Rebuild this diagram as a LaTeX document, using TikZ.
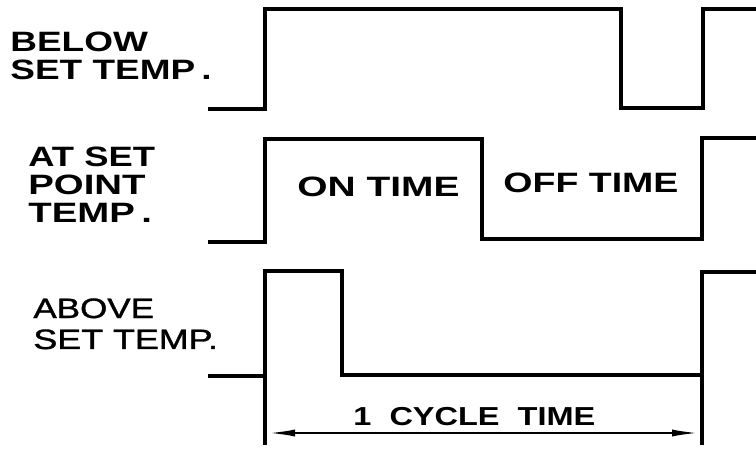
\documentclass[tikz,border=0pt]{standalone}
\usepackage{fontspec}
\setmainfont{Liberation Sans}
\newfontfamily\mediumfont{Liberation Sans}[FakeBold=1.2]
\usepackage{tikz}
\usetikzlibrary{arrows.meta}
\newcommand{\wide}[2][1.32]{\scalebox{#1}[1]{#2}}

\begin{document}
\begin{tikzpicture}[x=0.5pt, y=-0.5pt, every node/.style={inner sep=0pt, anchor=base west}]
            \tikzstyle{wave}=[line width=1.9pt, line join=miter]
            \tikzstyle{dim}=[line width=1.4pt, {Latex[length=15pt,width=3.5pt]}-{Latex[length=15pt,width=3.5pt]}]
            \tikzstyle{heavy}=[font=\fontsize{14}{16}\selectfont\bfseries]
            \tikzstyle{light}=[font=\fontsize{14}{16}\selectfont\mediumfont]
            \useasboundingbox (0,0) rectangle (756,449);
            \node[heavy] (below1) at (10,52) {\wide{BELOW}};
            \node[heavy] (below2) at (10,80) {\wide{SET TEMP\,.}};
            \node[heavy] (at1) at (28,167) {\wide[1.3]{AT SET}};
            \node[heavy] (at2) at (28,195) {\wide[1.37]{POINT}};
            \node[heavy] (at3) at (28,223) {\wide[1.37]{TEMP\,.}};
            \node[light] (above1) at (33,318) {\wide[1.25]{ABOVE}};
            \node[light] (above2) at (33,349) {\wide[1.28]{SET TEMP.}};
            \node[heavy] (on) at (297,197) {\wide[1.39]{ON TIME}};
            \node[heavy] (off) at (503,193) {\wide[1.34]{OFF TIME}};
            \node[heavy, font=\fontsize{13}{15}\selectfont\bfseries] (cycle) at (353,425) {\wide[1.25]{1\ \ CYCLE\ \ TIME}};
            \draw[wave] (208,109) -- (265,109) -- (265,9) -- (621,9) -- (621,108) -- (703,108) -- (703,9) -- (756,9);
            \draw[wave] (208,242) -- (265,242) -- (265,139) -- (482,139) -- (482,239) -- (702,239) -- (702,138) -- (756,138);
            \draw[wave] (208,376) -- (265,376) -- (265,271) -- (342,271) -- (342,375) -- (702,375) -- (702,272) -- (756,272);
            \draw[wave] (265,376) -- (265,445);
            \draw[wave] (702,375) -- (702,445);
            \coordinate (cycL) at (265,433);
            \coordinate (cycR) at (702,433);
            \draw[dim] (cycL) -- (cycR);
        \end{tikzpicture}
\end{document}
